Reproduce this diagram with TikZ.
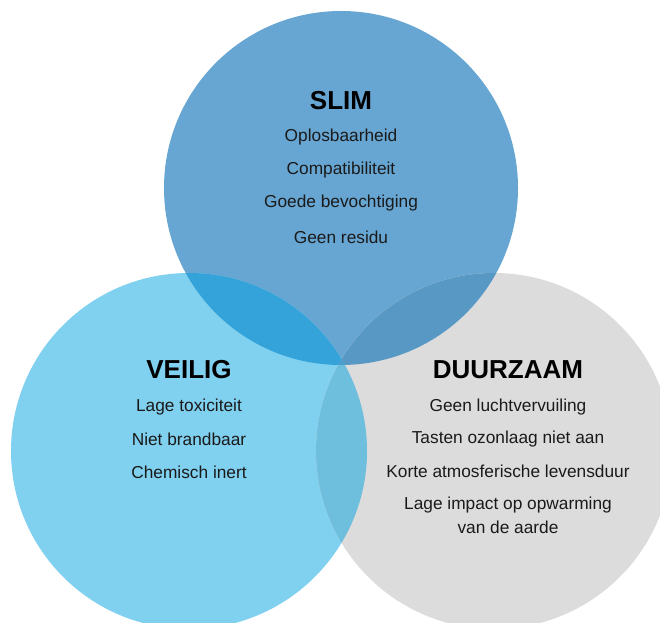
\documentclass[tikz,border=0pt]{standalone}
\usepackage{fontspec}
\setmainfont{Liberation Sans}
\definecolor{cTop}{HTML}{67A6D2}
\definecolor{cLeft}{HTML}{80D0EF}
\definecolor{cRight}{HTML}{DCDCDC}
\definecolor{cTL}{HTML}{34A3DA}
\definecolor{cTR}{HTML}{5898C5}
\definecolor{cLR}{HTML}{6EBEDD}
\definecolor{cTLR}{HTML}{4A9ECF}
\definecolor{cText}{HTML}{1A1A1A}
\begin{document}
\begin{tikzpicture}[x=1pt,y=1pt,
  title/.style={font=\fontsize{26}{29}\selectfont\bfseries, text=black, inner sep=0pt},
  item/.style={font=\fontsize{17.3}{20}\selectfont, text=cText, inner sep=0pt, align=center}]
\useasboundingbox (0,0) rectangle (660,622);
\begin{scope}
\clip (0,0) rectangle (660,622);
\def\TOP{(341,434) circle (177)}
\def\LEFT{(189,171) circle (178)}
\def\RIGHT{(494,171) circle (178)}
\fill[cTop] \TOP;
\fill[cLeft] \LEFT;
\fill[cRight] \RIGHT;
\begin{scope}\clip \LEFT; \fill[cTL] \TOP; \end{scope}
\begin{scope}\clip \RIGHT; \fill[cTR] \TOP; \end{scope}
\begin{scope}\clip \LEFT; \fill[cLR] \RIGHT; \end{scope}
\begin{scope}\clip \LEFT; \clip \RIGHT; \fill[cTLR] \TOP; \end{scope}
\end{scope}
% SLIM
\node[title] (slim) at (341,521) {SLIM};
\node[item] (s1) at (341,485) {Oplosbaarheid};
\node[item] (s2) at (341,452) {Compatibiliteit};
\node[item] (s3) at (341,419) {Goede bevochtiging};
\node[item] (s4) at (341,385) {Geen residu};
% VEILIG
\node[title] (veilig) at (189,252) {VEILIG};
\node[item] (v1) at (189,215) {Lage toxiciteit};
\node[item] (v2) at (189,183) {Niet brandbaar};
\node[item] (v3) at (189,150) {Chemisch inert};
% DUURZAAM
\node[title] (duurzaam) at (508,252) {DUURZAAM};
\node[item] (d1) at (508,215) {Geen luchtvervuiling};
\node[item] (d2) at (508,183) {Tasten ozonlaag niet aan};
\node[item] (d3) at (508,151) {Korte atmosferische levensduur};
\node[item] (d4) at (508,117) {Lage impact op opwarming};
\node[item] (d5) at (508,95) {van de aarde};
\end{tikzpicture}
\end{document}
